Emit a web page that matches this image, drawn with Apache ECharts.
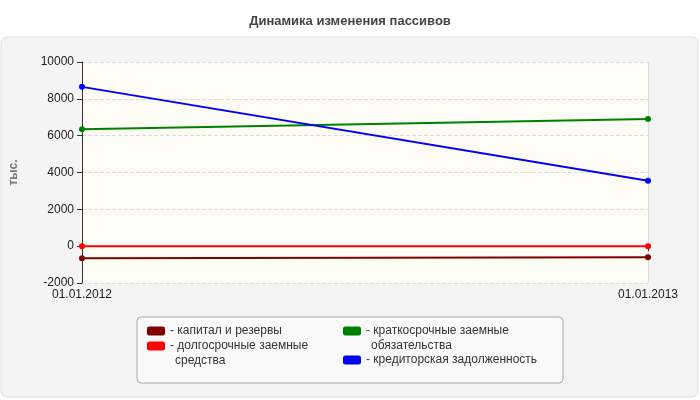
<!DOCTYPE html><html><head><meta charset="utf-8"><script src="https://cdn.jsdelivr.net/npm/echarts@6/dist/echarts.min.js"></script></head><body style="margin:0"><div id="c" style="width:700px;height:400px"></div><script>
const categories=['01.01.2012','01.01.2013'];
const names=['капитал и резервы','долгосрочные заемные средства','краткосрочные заемные обязательства','кредиторская задолженность'];
const firstLines=['капитал и резервы','долгосрочные заемные','краткосрочные заемные','кредиторская задолженность'];
const secondLines=['','средства','обязательства',''];
const colors=['#800000','#ff0000','#008000','#0000ff'];
const kapital=[-650,-600];
const dolg=[0,0];
const krat=[6350,6900];
const kred=[8650,3550];
const vals=[kapital,dolg,krat,kred];
const pos=[[147,325],[147,340],[343,325],[343,354]];
const c=echarts.init(document.getElementById('c'));
const font='Liberation Sans';
c.setOption({
 title:{text:'Динамика изменения пассивов',left:'center',top:10,textStyle:{fontSize:13,fontWeight:'bold',color:'#444',fontFamily:font}},
 graphic:[{type:'rect',shape:{x:1,y:37,width:697,height:360,r:6},style:{fill:'#f4f4f4',stroke:'#ddd'},z:-10},
  {type:'rect',shape:{x:137,y:317,width:426,height:66,r:4},style:{fill:'#fafafa',stroke:'#aaa'},z:-5}]
  .concat(secondLines.map((t,i)=>({type:'text',left:pos[i][0]+28,top:pos[i][1]+15,style:{text:t,fontSize:12,fill:'#333',fontFamily:font}}))),
 grid:{left:78,right:52,top:62,bottom:117,show:true,backgroundColor:'#fdfdf6',borderWidth:0},
 legend:names.map((n,i)=>({data:[n],left:pos[i][0],top:pos[i][1],itemWidth:18,itemHeight:9,itemGap:0,icon:'roundRect',
  formatter:()=>'- '+firstLines[i],textStyle:{fontSize:12,color:'#333',fontFamily:font},selectedMode:false,padding:0})),
 xAxis:{type:'category',data:categories,boundaryGap:false,axisLine:{lineStyle:{color:'#333'}},axisTick:{show:true,lineStyle:{color:'#333'}},
  axisLabel:{color:'#222',fontSize:12,margin:6,fontFamily:font},splitLine:{show:true,lineStyle:{color:'#ddd'}}},
 yAxis:{type:'value',min:-2000,max:10000,interval:2000,name:'тыс.',nameLocation:'middle',nameGap:62,nameTextStyle:{color:'#777',fontWeight:'bold',fontSize:12},
  axisLine:{show:true,lineStyle:{color:'#333'}},axisTick:{show:true},axisLabel:{color:'#222',fontSize:12,fontFamily:font,formatter:v=>String(v)},
  splitLine:{lineStyle:{type:'dashed',color:'#ddd'}}},
 series:names.map((n,i)=>({name:n,type:'line',data:vals[i],color:colors[i],symbol:'circle',symbolSize:6,lineStyle:{width:2},z:i==1?5:2}))
});
</script></body></html>
